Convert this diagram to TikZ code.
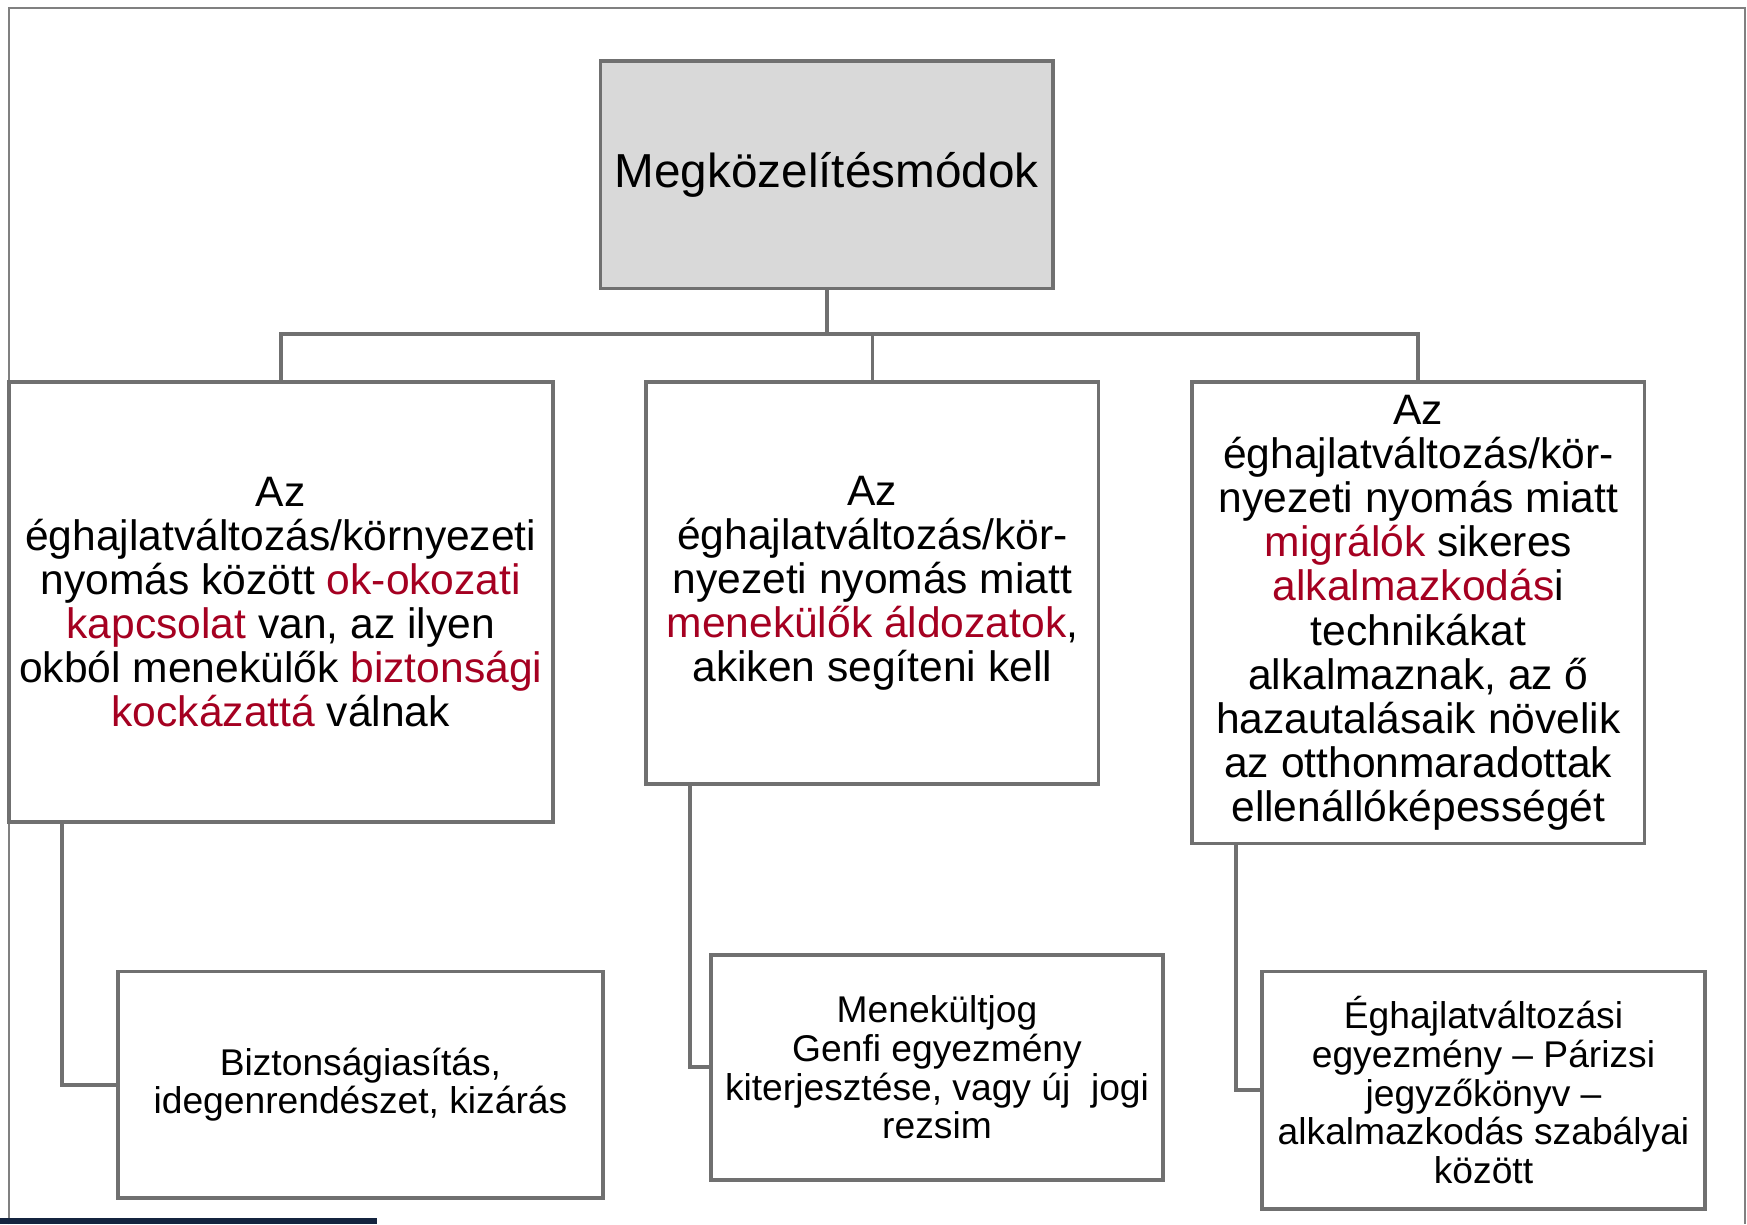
\documentclass[tikz,border=0pt]{standalone}
\usepackage{fontspec}
\setmainfont{Liberation Sans}
\definecolor{boxline}{RGB}{112,112,112}
\definecolor{frameline}{RGB}{128,128,128}
\definecolor{topfill}{RGB}{217,217,217}
\definecolor{hl}{RGB}{165,0,33}
\definecolor{navy}{RGB}{20,36,63}
\tikzset{
  box/.style={draw=boxline, line width=1.7pt, fill=white, align=center, inner sep=0pt},
  topbox/.style={box, fill=topfill, font=\fontsize{21.4}{24}\selectfont},
  midbox/.style={box, font=\fontsize{19.1}{19.8}\selectfont},
  lowbox/.style={box, font=\fontsize{16.7}{17.4}\selectfont},
  conn/.style={draw=boxline, line width=1.7pt, line join=miter},
}
\newcommand{\hlt}[1]{\textcolor{hl}{#1}}
\begin{document}
\begin{tikzpicture}[x=0.5pt,y=-0.5pt]
\useasboundingbox (0,0) rectangle (1568,1099);
% outer frame
\draw[frameline, line width=0.75pt] (8,1099) -- (8,7) -- (1566,7) -- (1566,1099);
\fill[navy] (0,1093.5) rectangle (338,1099);
% top
\node[topbox, minimum width=203pt, minimum height=102pt] (top) at (742,157) {Megközelítésmódok};
% middle row
\node[midbox, minimum width=244pt, minimum height=197.5pt] (L) at (252,540.5) {Az\\éghajlatváltozás/környezeti\\nyomás között \hlt{ok-okozati}\\\hlt{kapcsolat} van, az ilyen\\okból menekülők \hlt{biztonsági}\\\hlt{kockázattá} válnak};
\node[midbox, minimum width=203pt, minimum height=180.5pt] (M) at (783,523.5) {Az\\éghajlatváltozás/kör-\\nyezeti nyomás miatt\\\hlt{menekülők áldozatok},\\akiken segíteni kell};
\node[midbox, minimum width=203pt, minimum height=207pt] (R) at (1273,550) {Az\\éghajlatváltozás/kör-\\nyezeti nyomás miatt\\\hlt{migrálók} sikeres\\\hlt{alkalmazkodás}i\\technikákat\\alkalmaznak, az ő\\hazautalásaik növelik\\az otthonmaradottak\\ellenállóképességét};
% bottom row
\node[lowbox, minimum width=217.5pt, minimum height=101.5pt] (BL) at (323.5,973.5) {Biztonságiasítás,\\idegenrendészet, kizárás};
\node[lowbox, minimum width=203pt, minimum height=101pt] (BM) at (841,958) {Menekültjog\\Genfi egyezmény\\kiterjesztése, vagy új\ \ jogi\\rezsim};
\node[lowbox, minimum width=198.5pt, minimum height=106.5pt] (BR) at (1331.5,978.5) {Éghajlatváltozási\\egyezmény – Párizsi\\jegyzőkönyv –\\alkalmazkodás szabályai\\között};
% connectors
\coordinate (bus) at (742,300);
\draw[conn] (top.south) -- (bus);
\draw[conn] (L.north) |- (bus) -| (R.north);
\draw[conn] (M.north) -- (M.north |- bus);
\draw[conn] ([xshift=24.5pt]L.south west) |- (BL.west);
\draw[conn] ([xshift=20.5pt]M.south west) |- (BM.west);
\draw[conn] ([xshift=20.5pt]R.south west) |- (BR.west);
\end{tikzpicture}
\end{document}
